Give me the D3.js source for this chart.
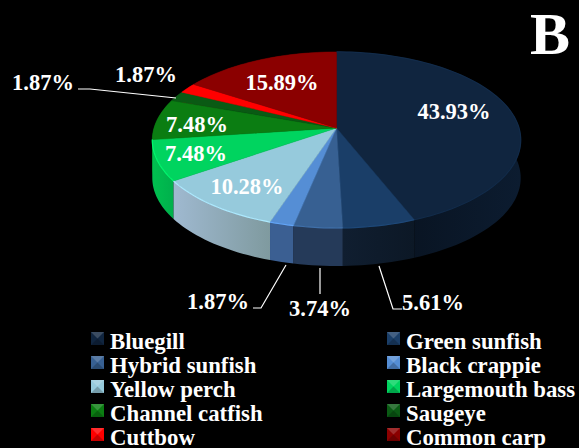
<!DOCTYPE html>
<html>
<head>
<meta charset="utf-8">
<script src="https://cdn.jsdelivr.net/npm/d3@7"></script>
<style>
  html, body { margin: 0; background: #000; }
  svg { display: block; }
  text { font-family: "Liberation Serif", serif; font-weight: bold; fill: #fff; }
</style>
</head>
<body>
<div id="main"></div>
<script>
var species = ['Bluegill', 'Green sunfish', 'Hybrid sunfish', 'Black crappie', 'Yellow perch',
  'Largemouth bass', 'Channel catfish', 'Saugeye', 'Cuttbow', 'Common carp'];
var percents = [43.93, 5.61, 3.74, 1.87, 10.28, 7.48, 7.48, 1.87, 1.87, 15.89];
var topColors = ['#10253f', '#1a3e68', '#376092', '#558ed5', '#96cadc',
  '#00d45f', '#0b7d12', '#0a5a14', '#ff0000', '#8b0000'];
var wallLeft = ['#070f1a', '#101e30', '#253a59', '#3b5f92', '#9fb9d0',
  '#00c050', '#0a6a10', '#084a10', '#c00000', '#600000'];
var wallRight = ['#0c1c30', '#0c1826', '#253a59', '#3b5f92', '#7f9a9f',
  '#00b04c', '#0a6a10', '#084a10', '#c00000', '#600000'];

var width = 579, height = 448;
var cx = 336.5, apexY = 128, radiusX = 182.5, radiusY = 86.4, tilt = 0.136, depth = 38;

var svg = d3.select('#main').append('svg').attr('width', width).attr('height', height);
svg.append('rect').attr('width', width).attr('height', height).attr('fill', '#000');

var defs = svg.append('defs');
species.forEach(function(d, i) {
  var g = defs.append('linearGradient').attr('id', 'wall' + i);
  g.append('stop').attr('offset', '0%').attr('stop-color', wallLeft[i]);
  g.append('stop').attr('offset', '100%').attr('stop-color', wallRight[i]);
});

var scaleX = d3.scaleLinear().domain([-1, 1]).range([cx - radiusX, cx + radiusX]);
var scaleY = d3.scaleLinear().domain([-1, 1]).range([apexY - radiusY, apexY + radiusY]);

// tilted disc: the near half looks bigger than the far one
function rim(angle, drop) {
  var u = Math.sin(angle), v = -Math.cos(angle);
  var s = 1 / (1 - tilt * v);
  return [scaleX(u * s), scaleY(v * s) + (drop || 0)];
}

function arcPoints(a0, a1, drop) {
  var n = Math.max(2, Math.ceil((a1 - a0) / 0.03));
  return d3.range(n + 1).map(function(k) {
    return rim(a0 + (a1 - a0) * k / n, drop);
  });
}

var slices = d3.pie().sort(null).value(function(d) { return d; })(percents);
var line = d3.line();

// walls first, far ones at the back
var order = slices.slice().sort(function(a, b) {
  return rim((a.startAngle + a.endAngle) / 2)[1] - rim((b.startAngle + b.endAngle) / 2)[1];
});

svg.append('g').selectAll('path').data(order).enter().append('path')
  .attr('d', function(d) {
    var up = arcPoints(d.startAngle, d.endAngle, 0);
    var down = arcPoints(d.startAngle, d.endAngle, depth).reverse();
    return line(up.concat(down)) + 'Z';
  })
  .attr('fill', function(d) { return 'url(#wall' + d.index + ')'; });

svg.append('g').selectAll('path').data(slices).enter().append('path')
  .attr('d', function(d) {
    return line([[cx, apexY]].concat(arcPoints(d.startAngle, d.endAngle, 0))) + 'Z';
  })
  .attr('fill', function(d) { return topColors[d.index]; })
  .attr('stroke', function(d) { return topColors[d.index]; })
  .attr('stroke-width', 0.5);

// light edge along the near rim
svg.append('g').selectAll('path').data(slices.filter(function(d) { return d.index < 6; }))
  .enter().append('path')
  .attr('d', function(d) { return line(arcPoints(d.startAngle, d.endAngle, 0)); })
  .attr('fill', 'none')
  .attr('stroke', function(d) { return d3.color(topColors[d.index]).brighter(0.4); })
  .attr('stroke-width', 1.2);

// data labels
var labelText = ['43.93%', '5.61%', '3.74%', '1.87%', '10.28%', '7.48%', '7.48%', '1.87%', '1.87%', '15.89%'];
var labelX = [454, 433, 320, 218, 247, 196, 197, 43, 146, 282];
var labelY = [119, 310, 316, 309, 194, 161, 132, 90, 82, 90];

svg.append('g').selectAll('text').data(labelText).enter().append('text')
  .attr('x', function(d, i) { return labelX[i]; })
  .attr('y', function(d, i) { return labelY[i]; })
  .attr('text-anchor', 'middle')
  .attr('font-size', 22.5)
  .text(function(d) { return d; });

// leader lines
var leaders = [
  [[78, 89], [90, 89], [176, 98]],
  [[253, 308], [261, 308], [286, 265]],
  [[320, 268], [320, 294]],
  [[379, 266], [393, 309], [402, 309]]
];
svg.append('g').selectAll('path').data(leaders).enter().append('path')
  .attr('d', line)
  .attr('fill', 'none')
  .attr('stroke', '#fff')
  .attr('stroke-width', 1.2);

// legend, two columns running across
var legendX = [91, 387], legendTop = 332, legendStep = 24, box = 13;
var legend = svg.append('g').selectAll('g').data(species).enter().append('g')
  .attr('transform', function(d, i) {
    return 'translate(' + legendX[i % 2] + ',' + (legendTop + Math.floor(i / 2) * legendStep) + ')';
  });

legend.append('rect')
  .attr('width', box).attr('height', box)
  .attr('fill', function(d, i) { return topColors[i]; });

// bevel on the swatches
legend.append('path')
  .attr('d', 'M0,0L' + box + ',0L' + (box / 2) + ',' + (box / 2) + 'Z')
  .attr('fill', '#fff').attr('opacity', 0.18);
legend.append('path')
  .attr('d', 'M0,' + box + 'L' + box + ',' + box + 'L' + (box / 2) + ',' + (box / 2) + 'Z')
  .attr('fill', '#000').attr('opacity', 0.22);

legend.append('text')
  .attr('x', box + 6)
  .attr('y', 16.5)
  .attr('font-size', 22.8)
  .text(function(d) { return d; });

svg.append('text')
  .attr('x', 530).attr('y', 54)
  .attr('font-size', 60)
  .text('B');
</script>
</body>
</html>
